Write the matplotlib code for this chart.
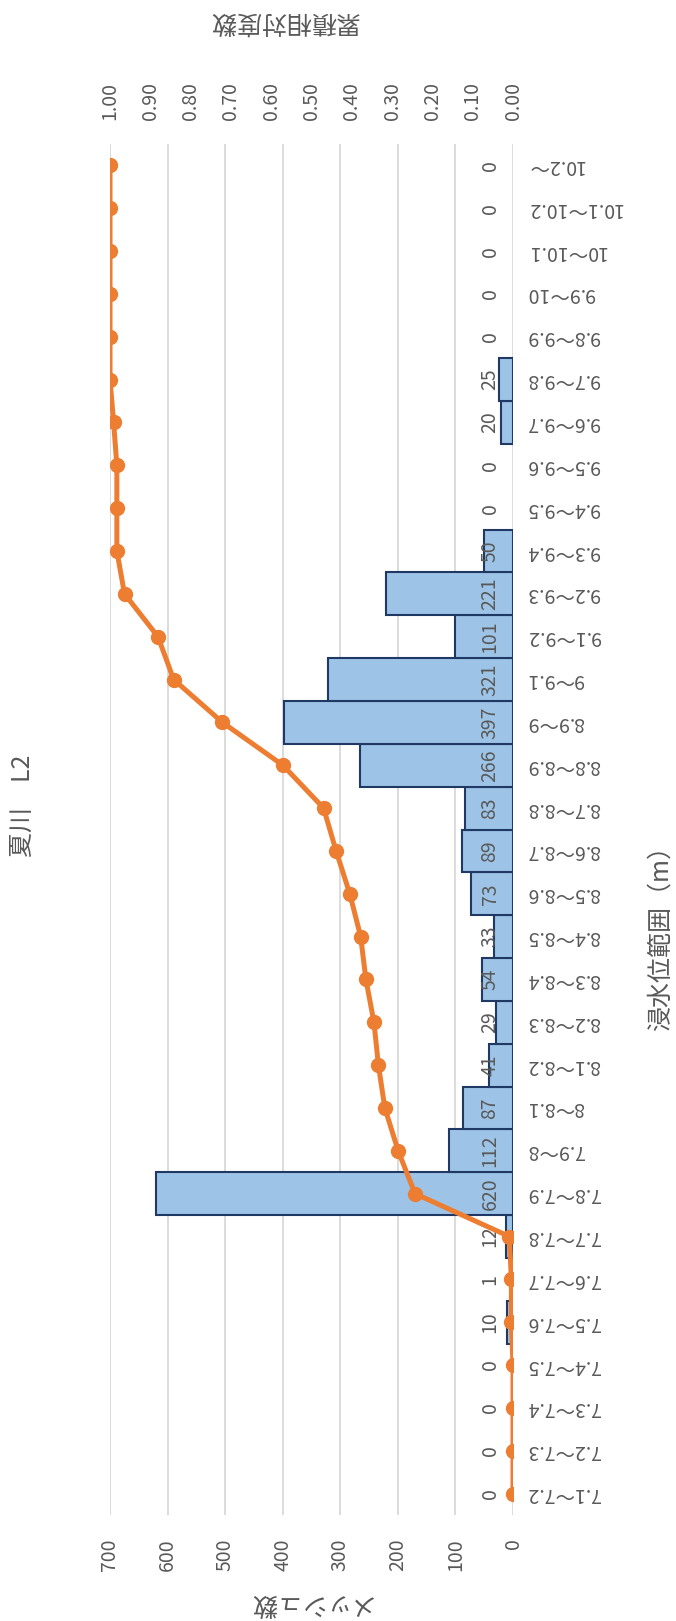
import matplotlib

matplotlib.use("Agg")
import matplotlib.pyplot as plt
import numpy as np

plt.rcParams["font.family"] = ["Noto Sans CJK JP", "DejaVu Sans"]

# flood level ranges (m) and mesh counts per range
categories = [
    "7.1～7.2", "7.2～7.3", "7.3～7.4", "7.4～7.5", "7.5～7.6", "7.6～7.7",
    "7.7～7.8", "7.8～7.9", "7.9～8", "8～8.1", "8.1～8.2", "8.2～8.3",
    "8.3～8.4", "8.4～8.5", "8.5～8.6", "8.6～8.7", "8.7～8.8", "8.8～8.9",
    "8.9～9", "9～9.1", "9.1～9.2", "9.2～9.3", "9.3～9.4", "9.4～9.5",
    "9.5～9.6", "9.6～9.7", "9.7～9.8", "9.8～9.9", "9.9～10", "10～10.1",
    "10.1～10.2", "10.2～",
]
mesh_counts = [
    0, 0, 0, 0, 10, 1, 12, 620, 112, 87, 41, 29, 54, 33, 73, 89,
    83, 266, 397, 321, 101, 221, 50, 0, 0, 20, 25, 0, 0, 0, 0, 0,
]
cum_freq = [
    0.000, 0.000, 0.000, 0.000, 0.004, 0.004, 0.009, 0.243, 0.285, 0.318,
    0.334, 0.345, 0.365, 0.378, 0.405, 0.439, 0.470, 0.571, 0.721, 0.842,
    0.881, 0.964, 0.983, 0.983, 0.983, 0.991, 1.000, 1.000, 1.000, 1.000,
    1.000, 1.000,
]
count_ticks = [0, 100, 200, 300, 400, 500, 600, 700]
freq_ticks = [0.0, 0.1, 0.2, 0.3, 0.4, 0.5, 0.6, 0.7, 0.8, 0.9, 1.0]

TEXT = "#595959"
W, H = 676, 1621

fig = plt.figure(figsize=(W / 100, H / 100), dpi=100)
ax = fig.add_axes([110 / W, 106 / H, 403 / W, 1371 / H])

ypos = np.arange(len(categories))
counts = np.array(mesh_counts)
nz = counts > 0
ax.barh(ypos[nz], counts[nz], height=1.0, color="#9DC3E6",
        edgecolor="#1F3864", linewidth=1.5, zorder=2)

for i, c in enumerate(mesh_counts):
    ax.annotate(str(c), xy=(0, i), xytext=(-16.5, 0), textcoords="offset points",
                rotation=90, ha="center", va="center", fontsize=14,
                color=TEXT, zorder=3)

ax.set_xlim(700, 0)
ax.set_ylim(-0.5, len(categories) - 0.5)
ax.set_xticks(count_ticks)
ax.set_xticklabels([str(t) for t in count_ticks])
ax.grid(axis="x", color="#D9D9D9", linewidth=1.3, zorder=0)
ax.set_axisbelow(True)
ax.tick_params(axis="x", length=0, pad=17, labelsize=14, labelcolor=TEXT,
               labelrotation=90)
ax.set_yticks(ypos)
ax.set_yticklabels(categories)
ax.yaxis.tick_right()
ax.tick_params(axis="y", length=0, pad=10, labelsize=14, labelcolor=TEXT,
               labelrotation=180)
for lab in ax.get_yticklabels():
    lab.set_verticalalignment("center")
for s in ax.spines.values():
    s.set_visible(False)

# cumulative relative frequency on the top axis
ax2 = ax.twiny()
ax2.plot(cum_freq, ypos, color="#ED7D31", linewidth=3.6, marker="o",
         markersize=10, zorder=4)
ax2.set_xlim(1.0, 0.0)
ax2.set_xticks(freq_ticks)
ax2.set_xticklabels([f"{t:.2f}" for t in freq_ticks])
ax2.tick_params(axis="x", length=0, pad=17, labelsize=14, labelcolor=TEXT,
                labelrotation=90)
for s in ax2.spines.values():
    s.set_visible(False)

fig.text(23 / W, 1 - 806 / H, "夏川　L2", rotation=90, ha="center",
         va="center", fontsize=18, color=TEXT)
fig.text(661 / W, 1 - 932 / H, "浸水位範囲（m）", rotation=90, ha="center",
         va="center", fontsize=18, color=TEXT)
fig.text(284 / W, 1 - 21 / H, "累積相対度数", rotation=180, ha="center",
         va="center", fontsize=18, color=TEXT)
fig.text(310 / W, 1 - 1603 / H, "メッシュ数", rotation=180, ha="center",
         va="center", fontsize=18, color=TEXT)

fig.savefig("out.png", dpi=100, facecolor="white")
